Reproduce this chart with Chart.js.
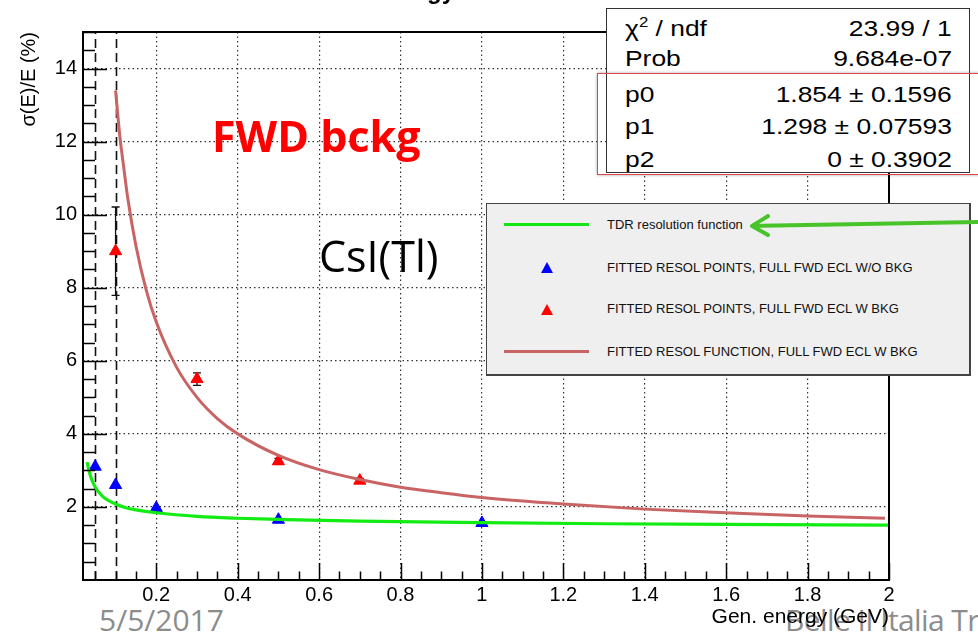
<!DOCTYPE html>
<html>
<head>
<meta charset="utf-8">
<script src="https://cdn.jsdelivr.net/npm/chart.js@4.4.1/dist/chart.umd.min.js"></script>
<style>
html,body{margin:0;padding:0;background:#fff;width:978px;height:634px;overflow:hidden;}
#wrap{position:relative;width:978px;height:634px;overflow:hidden;font-family:'Liberation Sans',Arial,sans-serif;}
#c{position:absolute;left:0;top:0;z-index:2;}
.foot{position:absolute;z-index:1;color:#8c8c8c;font-family:'Open Sans',sans-serif;font-size:30px;line-height:30px;white-space:nowrap;}
.ann{position:absolute;z-index:3;white-space:nowrap;font-family:'Open Sans',sans-serif;}
#title{position:absolute;z-index:3;font:bold 24px 'Liberation Sans',Arial,sans-serif;line-height:24px;top:-21px;right:523px;white-space:nowrap;}
#stats{position:absolute;z-index:4;left:606px;top:8px;width:362px;height:163px;background:#fff;border:1.5px solid #333;}
.srow{position:absolute;left:0;width:100%;height:22px;font-size:22px;line-height:22px;color:#000;}
.srow .l{position:absolute;left:18px;top:0;transform:scaleX(1.2);transform-origin:left center;white-space:nowrap;}
.srow .v{position:absolute;right:17px;top:0;transform:scaleX(1.2);transform-origin:right center;white-space:nowrap;}
.srow sup{font-size:14px;vertical-align:9px;line-height:0;}
#redbox{position:absolute;z-index:5;left:597px;top:73px;width:400px;height:100px;border:1.5px solid #e04848;box-shadow:0 0 3px rgba(0,0,0,0.35);}
#legend{position:absolute;z-index:4;left:486px;top:203px;width:482px;height:170px;background:#efefef;border:1.5px solid #444;border-right-width:2.5px;border-bottom-width:2.5px;}
.lt{position:absolute;z-index:5;font-size:13px;line-height:14px;color:#111;white-space:nowrap;}
.lline{position:absolute;z-index:5;height:3px;}
.ltri{position:absolute;z-index:5;width:0;height:0;border-left:6px solid transparent;border-right:6px solid transparent;border-bottom:11px solid #00f;}
#arrow{position:absolute;left:0;top:0;z-index:6;pointer-events:none;}
</style>
</head>
<body>
<div id="wrap">
  <div class="foot" style="left:99px;top:605px;">5/5/2017</div>
  <div class="foot" style="left:785px;top:605px;letter-spacing:-0.6px;">Belle II Italia Tri</div>
  <canvas id="c" width="978" height="634"></canvas>
  <div id="title">Energy</div>
  <div class="ann" style="left:212px;top:114px;font-size:43px;line-height:43px;font-weight:bold;color:#ff0000;">FWD bckg</div>
  <div class="ann" style="left:319px;top:235px;font-size:43px;line-height:42px;color:#000;">CsI(Tl)</div>

  <div id="stats">
    <div class="srow" style="top:9px;"><span class="l">χ<sup>2</sup> / ndf</span><span class="v">23.99 / 1</span></div>
    <div class="srow" style="top:39px;"><span class="l">Prob</span><span class="v">9.684e-07</span></div>
    <div class="srow" style="top:75px;"><span class="l">p0</span><span class="v">1.854 ± 0.1596</span></div>
    <div class="srow" style="top:107px;"><span class="l">p1</span><span class="v">1.298 ± 0.07593</span></div>
    <div class="srow" style="top:140px;"><span class="l">p2</span><span class="v">0 ± 0.3902</span></div>
  </div>
  <div id="redbox"></div>

  <div id="legend"></div>
  <div class="lline" style="left:504px;top:223px;width:85px;background:#14e814;"></div>
  <div class="lt" style="left:607px;top:218px;">TDR resolution function</div>
  <div class="ltri" style="left:541px;top:262px;border-bottom-color:#0000ff;"></div>
  <div class="lt" style="left:607px;top:261px;">FITTED RESOL POINTS, FULL FWD ECL W/O BKG</div>
  <div class="ltri" style="left:541px;top:304px;border-bottom-color:#ff0000;"></div>
  <div class="lt" style="left:607px;top:302px;">FITTED RESOL POINTS, FULL FWD ECL W BKG</div>
  <div class="lline" style="left:504px;top:350px;width:85px;background:#c96464;"></div>
  <div class="lt" style="left:607px;top:345px;">FITTED RESOL FUNCTION, FULL FWD ECL W BKG</div>

  <svg id="arrow" width="978" height="634">
    <g stroke="#48c42a" stroke-width="4" stroke-linecap="round" stroke-linejoin="round" fill="none">
      <line x1="980" y1="222" x2="754" y2="226"/>
      <polyline points="768,216 752,226 768,235"/>
    </g>
  </svg>
</div>

<script>
// ---- data ----
const xTickValues = [0.2, 0.4, 0.6, 0.8, 1.0, 1.2, 1.4, 1.6, 1.8, 2.0];
const xTickLabels = ['0.2', '0.4', '0.6', '0.8', '1', '1.2', '1.4', '1.6', '1.8', '2'];
const yTickValues = [2, 4, 6, 8, 10, 12, 14];
const yTickLabels = ['2', '4', '6', '8', '10', '12', '14'];
const dashedEnergies = [0.05, 0.1];

// TDR resolution function (green)
const tdrEnergy = [0.03, 0.035, 0.04, 0.05, 0.06, 0.07, 0.08, 0.1, 0.125, 0.15, 0.2, 0.3, 0.4, 0.5, 0.7, 1.0, 1.3, 1.6, 2.0];
const tdrResol  = [3.23, 2.98, 2.79, 2.54, 2.39, 2.27, 2.19, 2.08, 1.98, 1.92, 1.84, 1.74, 1.69, 1.66, 1.61, 1.57, 1.54, 1.52, 1.50];

// fitted points without background (blue)
const blueEnergy = [0.05, 0.1, 0.2, 0.5, 1.0];
const blueResol  = [3.10, 2.60, 1.97, 1.65, 1.56];

// fitted points with background (red)
const redEnergy = [0.1, 0.3, 0.5, 0.7];
const redResol  = [9.00, 5.50, 3.25, 2.72];
const redErr    = [1.21, 0.17, 0.08, 0.06];

// fitted function with background (brownish red)
const fitEnergy = [0.1, 0.11, 0.12, 0.13, 0.15, 0.175, 0.2, 0.25, 0.3, 0.35, 0.4, 0.5, 0.6, 0.7, 0.8, 0.9, 1.0, 1.2, 1.4, 1.6, 1.8, 1.99];
const fitResol  = [13.40, 12.20, 11.30, 10.45, 9.15, 7.95, 7.06, 5.82, 5.00, 4.42, 4.00, 3.41, 3.02, 2.75, 2.54, 2.39, 2.26, 2.08, 1.94, 1.84, 1.75, 1.69];

const pts = (xs, ys) => xs.map((x, i) => ({x: x, y: ys[i]}));

const rootDecor = {
  id: 'rootDecor',
  beforeDatasetsDraw(chart) {
    const {ctx, chartArea: a, scales: {x, y}} = chart;
    ctx.save();
    ctx.strokeStyle = '#111';
    ctx.lineWidth = 1.6;
    ctx.setLineDash([9, 5]);
    dashedEnergies.forEach(v => {
      const px = Math.round(x.getPixelForValue(v)) + 0.5;
      ctx.beginPath(); ctx.moveTo(px, a.bottom); ctx.lineTo(px, a.top); ctx.stroke();
    });
    ctx.setLineDash([]);
    ctx.strokeStyle = '#111';
    ctx.lineWidth = 1.3;
    redEnergy.forEach((e, i) => {
      const px = x.getPixelForValue(e);
      const yt = y.getPixelForValue(redResol[i] + redErr[i]);
      const yb = y.getPixelForValue(redResol[i] - redErr[i]);
      ctx.beginPath();
      ctx.moveTo(px, yt); ctx.lineTo(px, yb);
      ctx.moveTo(px - 4, yt); ctx.lineTo(px + 4, yt);
      ctx.moveTo(px - 4, yb); ctx.lineTo(px + 4, yb);
      ctx.stroke();
    });
    ctx.restore();
  },
  afterDatasetsDraw(chart) {
    const {ctx, chartArea: a, scales: {x, y}} = chart;
    ctx.save();
    ctx.strokeStyle = '#000';
    ctx.lineWidth = 1.5;
    ctx.beginPath();
    for (let k = 1; k <= 40; k++) {
      const v = k * 0.05;
      const px = Math.round(x.getPixelForValue(v)) + 0.5;
      const len = (k % 4 === 0) ? 17 : 8.5;
      ctx.moveTo(px, a.bottom); ctx.lineTo(px, a.bottom - len);
    }
    for (let k = 1; k <= 30; k++) {
      const v = k * 0.5;
      const py = Math.round(y.getPixelForValue(v)) + 0.5;
      const len = (k % 4 === 0) ? 24 : 12;
      ctx.moveTo(a.left, py); ctx.lineTo(a.left + len, py);
    }
    ctx.stroke();
    ctx.lineWidth = 2;
    ctx.strokeRect(a.left, a.top, a.right - a.left, a.bottom - a.top);
    ctx.restore();
  }
};

Chart.defaults.font.family = "'Liberation Sans', Arial, sans-serif";
Chart.defaults.color = '#000';

new Chart(document.getElementById('c'), {
  type: 'scatter',
  data: {
    datasets: [
      {
        label: 'TDR resolution function',
        data: pts(tdrEnergy, tdrResol),
        showLine: true, borderColor: '#12ec12', borderWidth: 3.2,
        pointRadius: 0, cubicInterpolationMode: 'monotone', fill: false
      },
      {
        label: 'FITTED RESOL FUNCTION, FULL FWD ECL W BKG',
        data: pts(fitEnergy, fitResol),
        showLine: true, borderColor: '#c96464', borderWidth: 3,
        pointRadius: 0, cubicInterpolationMode: 'monotone', fill: false
      },
      {
        label: 'FITTED RESOL POINTS, FULL FWD ECL W/O BKG',
        data: pts(blueEnergy, blueResol),
        pointStyle: 'triangle', pointRadius: 7,
        backgroundColor: '#0000ff', borderColor: '#0000ff', borderWidth: 1
      },
      {
        label: 'FITTED RESOL POINTS, FULL FWD ECL W BKG',
        data: pts(redEnergy, redResol),
        pointStyle: 'triangle', pointRadius: 7,
        backgroundColor: '#ff0000', borderColor: '#ff0000', borderWidth: 1
      }
    ]
  },
  options: {
    responsive: false,
    animation: false,
    events: [],
    layout: {padding: {left: 0, top: 32, right: 89, bottom: 0}},
    plugins: {legend: {display: false}, tooltip: {enabled: false}},
    scales: {
      x: {
        type: 'linear', min: 0.02, max: 2,
        afterBuildTicks: s => { s.ticks = xTickValues.map(v => ({value: v})); },
        afterFit: s => { s.height = 54; },
        ticks: {autoSkip: false, maxRotation: 0, padding: 3, font: {size: 20}, color: '#000',
                callback: (v, i) => xTickLabels[i]},
        grid: {color: '#333', lineWidth: 1.2, drawTicks: false},
        border: {display: false, dash: [1.5, 3]},
        title: {display: true, text: 'Gen. energy (GeV)', align: 'end', color: '#000',
                font: {size: 21}, padding: {top: 0, bottom: 4}}
      },
      y: {
        type: 'linear', min: 0, max: 15,
        afterBuildTicks: s => { s.ticks = yTickValues.map(v => ({value: v})); },
        afterFit: s => { s.width = 83; },
        ticks: {autoSkip: false, padding: 6, font: {size: 20}, color: '#000',
                callback: (v, i) => yTickLabels[i]},
        grid: {color: '#333', lineWidth: 1.2, drawTicks: false},
        border: {display: false, dash: [1.5, 3]},
        title: {display: true, text: 'σ(E)/E (%)', align: 'end', color: '#000',
                font: {size: 20}, padding: {top: 17, bottom: 0}}
      }
    }
  },
  plugins: [rootDecor]
});
</script>
</body>
</html>
